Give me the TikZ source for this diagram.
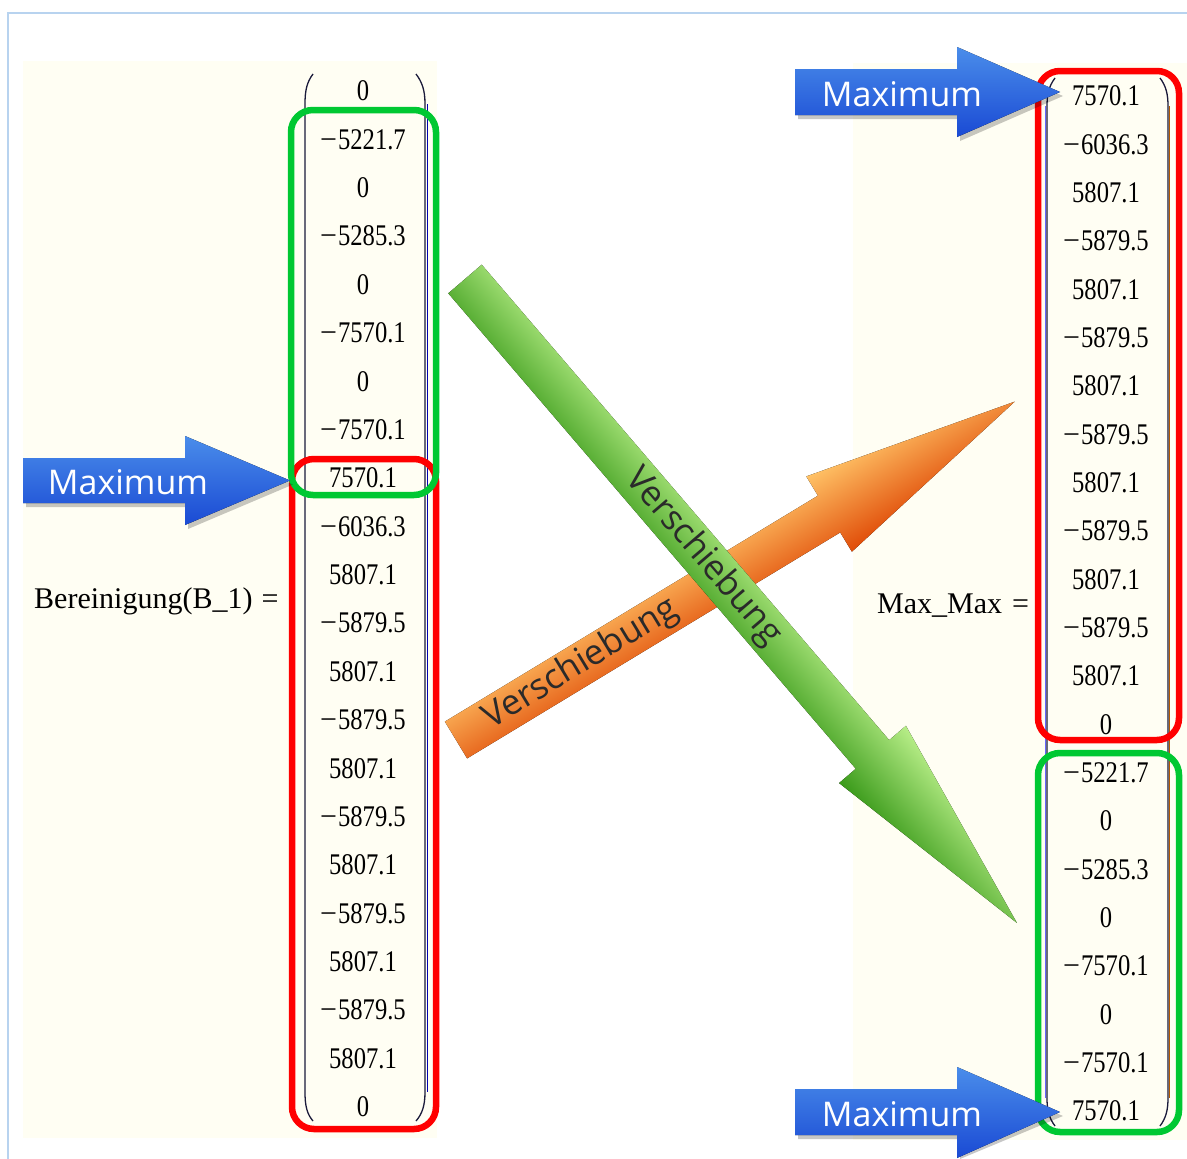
\documentclass[tikz,border=0pt]{standalone}
\usepackage{fontspec}
\setmainfont{Liberation Serif}
\newfontfamily\uifont{Open Sans}
\newfontfamily\numfont[FakeStretch=0.82]{Liberation Serif}
\newcommand{\mn}{{\rmfamily −}\kern1pt}
\definecolor{cream}{HTML}{FFFEF3}
\definecolor{framebl}{HTML}{B8D3EF}
\definecolor{boxred}{HTML}{FF0000}
\definecolor{boxgreen}{HTML}{00C832}
\definecolor{blueTop}{HTML}{4A8DEA}
\definecolor{blueBot}{HTML}{1A4AD4}
\definecolor{gTop}{HTML}{B8EE88}
\definecolor{gMid}{HTML}{6AD42C}
\definecolor{gBot}{HTML}{3A9A1A}
\definecolor{oTop}{HTML}{FFC266}
\definecolor{oMid}{HTML}{FF8A18}
\definecolor{oBot}{HTML}{E04C08}
\definecolor{parcol}{HTML}{1A1A3A}
\definecolor{txtgrey}{HTML}{2A2A2A}
\begin{document}
\begin{tikzpicture}[x=1pt,y=-1pt,
  num/.style={font=\numfont\fontsize{30}{30}\selectfont, inner sep=0pt, anchor=center},
  lbl/.style={font=\fontsize{30}{30}\selectfont, inner sep=0pt, anchor=base west},
  redbox/.style={draw=boxred, line width=6.5, rounded corners=22},
  greenbox/.style={draw=boxgreen, line width=6.5, rounded corners=22},
  parline/.style={draw=parcol, line width=1.3},
  bluearrow/.style={top color=blueTop, bottom color=blueBot, draw=none},
  arrowshadow/.style={fill=black, opacity=0.22, draw=none},
  maxtxt/.style={font=\uifont\fontsize{34}{34}\selectfont, text=white, inner sep=0pt},
  vtxt/.style={font=\uifont\fontsize{35}{35}\selectfont, text=txtgrey, inner sep=0pt}
]
\useasboundingbox (0,0) rectangle (1187,1159);
\fill[white] (0,0) rectangle (1187,1159);
% frame
\draw[framebl, line width=1.5] (8,1159) -- (8,13) -- (1187,13);
% cream panels
\fill[cream] (23,61) rectangle (437,1138);
\fill[cream] (853,63) rectangle (1187,1140);

% labels
\node[lbl] (blabel) at (34,608) {Bereinigung(B\_1)\hspace{9pt}=};
\node[lbl] (mlabel) at (877,613) {Max\_Max\hspace{10pt}=};

% left matrix
\draw[parline] (313,74) .. controls (307,82) and (305,90) .. (305,104) -- (305,1092) .. controls (305,1106) and (307,1114) .. (313,1121);
\draw[parline] (416,74) .. controls (422,82) and (425,90) .. (425,104) -- (425,1092) .. controls (425,1106) and (422,1114) .. (416,1121);
\draw[blue!70!black, line width=0.9] (427.5,104) -- (427.5,1092);
\foreach \v [count=\i from 0] in {0,\mn5221.7,0,\mn5285.3,0,\mn7570.1,0,\mn7570.1,7570.1,\mn6036.3,5807.1,\mn5879.5,5807.1,\mn5879.5,5807.1,\mn5879.5,5807.1,\mn5879.5,5807.1,\mn5879.5,5807.1,0}
  \node[num] (L\i) at (363,{91+48.38*\i}) {\v};

% right matrix
\draw[parline] (1055,78) .. controls (1049,86) and (1047,94) .. (1047,106) -- (1047,1098) .. controls (1047,1110) and (1049,1118) .. (1055,1126);
\draw[parline] (1160,78) .. controls (1166,86) and (1168,94) .. (1168,106) -- (1168,1098) .. controls (1168,1110) and (1166,1118) .. (1160,1126);
\draw[blue!60, line width=0.8] (1045.5,106) -- (1045.5,1098);
\draw[orange!70!black, line width=0.8] (1169.5,106) -- (1169.5,1098);
\foreach \v [count=\i from 0] in {7570.1,\mn6036.3,5807.1,\mn5879.5,5807.1,\mn5879.5,5807.1,\mn5879.5,5807.1,\mn5879.5,5807.1,\mn5879.5,5807.1,0,\mn5221.7,0,\mn5285.3,0,\mn7570.1,0,\mn7570.1,7570.1}
  \node[num] (R\i) at (1106,{96+48.33*\i}) {\v};

% boxes
\draw[redbox] (292,459) rectangle (436,1129);
\draw[greenbox] (291,110) rectangle (436,495);
\draw[redbox] (1038,71) rectangle (1179,740);
\draw[greenbox] (1038,753) rectangle (1179,1132);

% orange arrow
\begin{scope}[transform canvas={shift={(456,740)}, rotate=31.2}]
  \fill[top color=oTop, middle color=oMid, bottom color=oBot]
    (0,-21.5) -- (436.2,-21.5) -- (436.2,-44) -- (653.2,0) -- (436.2,44) -- (436.2,21.5) -- (0,21.5) -- cycle;
\end{scope}
% green arrow
\begin{scope}[transform canvas={shift={(465,279)}, rotate=-49.4}]
  \fill[top color=gTop, middle color=gMid, bottom color=gBot]
    (0,-22) -- (626.2,-22) -- (626.2,-44) -- (848.2,0) -- (626.2,44) -- (626.2,22) -- (0,22) -- cycle;
\end{scope}
\node[vtxt, rotate=31.2] (otext) at (581,664) {Verschiebung};
\node[vtxt, rotate=-49.4] (gtext) at (703,557) {Verschiebung};

% blue arrows
\fill[arrowshadow] (26,462) -- (188,462) -- (188,440) -- (293,484.5) -- (188,529) -- (188,507) -- (26,507) -- cycle;
\fill[bluearrow] (23,458) -- (185,458) -- (185,436) -- (290,480.5) -- (185,525) -- (185,503) -- (23,503) -- cycle;
\fill[arrowshadow] (798,73) -- (960,73) -- (960,51) -- (1063,96) -- (960,141) -- (960,119) -- (798,119) -- cycle;
\fill[bluearrow] (795,69) -- (957,69) -- (957,47) -- (1060,92) -- (957,137) -- (957,115) -- (795,115) -- cycle;
\fill[arrowshadow] (798,1093) -- (960,1093) -- (960,1071) -- (1063,1116) -- (960,1159) -- (960,1139) -- (798,1139) -- cycle;
\fill[bluearrow] (795,1089) -- (957,1089) -- (957,1067) -- (1060,1112) -- (957,1158) -- (957,1135) -- (795,1135) -- cycle;

\node[maxtxt] (m1) at (128,482) {Maximum};
\node[maxtxt] (m2) at (902,94) {Maximum};
\node[maxtxt] (m3) at (902,1114) {Maximum};
\end{tikzpicture}
\end{document}
